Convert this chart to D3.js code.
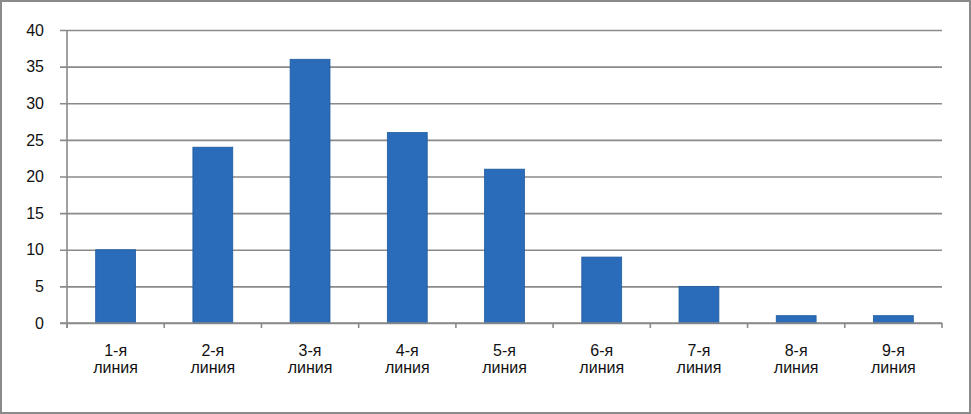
<!DOCTYPE html>
<html lang="ru">
<head>
    <meta charset="UTF-8">
    <title>Линии</title>
    <script src="https://d3js.org/d3.v7.min.js"></script>
    <style>
        body { margin: 0; background: #fff; font-family: 'Liberation Sans', Arial, sans-serif; }
        svg { display: block; }
    </style>
</head>
<body>
    <svg id="chart" width="971" height="414"></svg>
    <script>
        // chart data
        const categories = ["1-я линия", "2-я линия", "3-я линия", "4-я линия", "5-я линия",
                            "6-я линия", "7-я линия", "8-я линия", "9-я линия"];
        const values = [10, 24, 36, 26, 21, 9, 5, 1, 1];
        const yTicks = [0, 5, 10, 15, 20, 25, 30, 35, 40];

        const svg = d3.select("#chart");
        const W = 971, H = 414;
        const margin = { left: 67, right: 29, top: 30, bottom: 91 };

        // outer frame
        svg.append("rect")
            .attr("x", 1).attr("y", 1)
            .attr("width", W - 2).attr("height", H - 2)
            .attr("fill", "#fff")
            .attr("stroke", "#8a8a8a")
            .attr("stroke-width", 2);

        const x = d3.scaleBand()
            .domain(categories)
            .range([margin.left, W - margin.right])
            .paddingInner(0.59)
            .paddingOuter(0.295);

        const y = d3.scaleLinear()
            .domain([0, 40])
            .range([H - margin.bottom, margin.top]);

        // horizontal grid + tick stubs
        const yAxis = d3.axisLeft(y)
            .tickValues(yTicks)
            .tickSize(0);
        const gy = svg.append("g")
            .attr("transform", `translate(${margin.left - 7},0)`)
            .call(yAxis);
        gy.select(".domain").remove();
        gy.selectAll(".tick line")
            .attr("x1", 0)
            .attr("x2", W - margin.right - margin.left + 7)
            .attr("stroke", "#8a8a8a")
            .attr("stroke-width", 1.6);
        gy.selectAll(".tick text")
            .attr("x", -16)
            .attr("font-size", 16)
            .attr("font-family", "'Liberation Sans', Arial, sans-serif")
            .attr("fill", "#111");

        // vertical axis line
        svg.append("line")
            .attr("x1", margin.left).attr("x2", margin.left)
            .attr("y1", y(40)).attr("y2", y(0) + 5)
            .attr("stroke", "#8a8a8a")
            .attr("stroke-width", 1.6);

        // bars
        svg.append("g").selectAll("rect")
            .data(values)
            .enter()
            .append("rect")
            .attr("x", (d, i) => x(categories[i]))
            .attr("y", d => y(d))
            .attr("width", x.bandwidth())
            .attr("height", d => y(0) - y(d))
            .attr("fill", "#2a6cb9")
            .attr("stroke", "#1f5a9e")
            .attr("stroke-width", 0.8);

        // category ticks at band boundaries
        const step = x.step();
        const bounds = d3.range(categories.length + 1).map(i => margin.left + i * step);
        svg.append("g").selectAll("line")
            .data(bounds)
            .enter()
            .append("line")
            .attr("x1", d => d).attr("x2", d => d)
            .attr("y1", y(0)).attr("y2", y(0) + 5)
            .attr("stroke", "#8a8a8a")
            .attr("stroke-width", 1.6);

        // baseline
        svg.append("line")
            .attr("x1", margin.left - 7).attr("x2", W - margin.right)
            .attr("y1", y(0)).attr("y2", y(0))
            .attr("stroke", "#8a8a8a")
            .attr("stroke-width", 1.6);

        // category labels (two lines)
        const labels = svg.append("g").selectAll("text")
            .data(categories)
            .enter()
            .append("text")
            .attr("text-anchor", "middle")
            .attr("font-size", 16)
            .attr("fill", "#111");
        labels.each(function(d) {
            const parts = d.split(" ");
            const cx = x(d) + x.bandwidth() / 2;
            d3.select(this).append("tspan").attr("x", cx).attr("y", 356).text(parts[0]);
            d3.select(this).append("tspan").attr("x", cx).attr("y", 373).text(parts[1]);
        });
    </script>
</body>
</html>
